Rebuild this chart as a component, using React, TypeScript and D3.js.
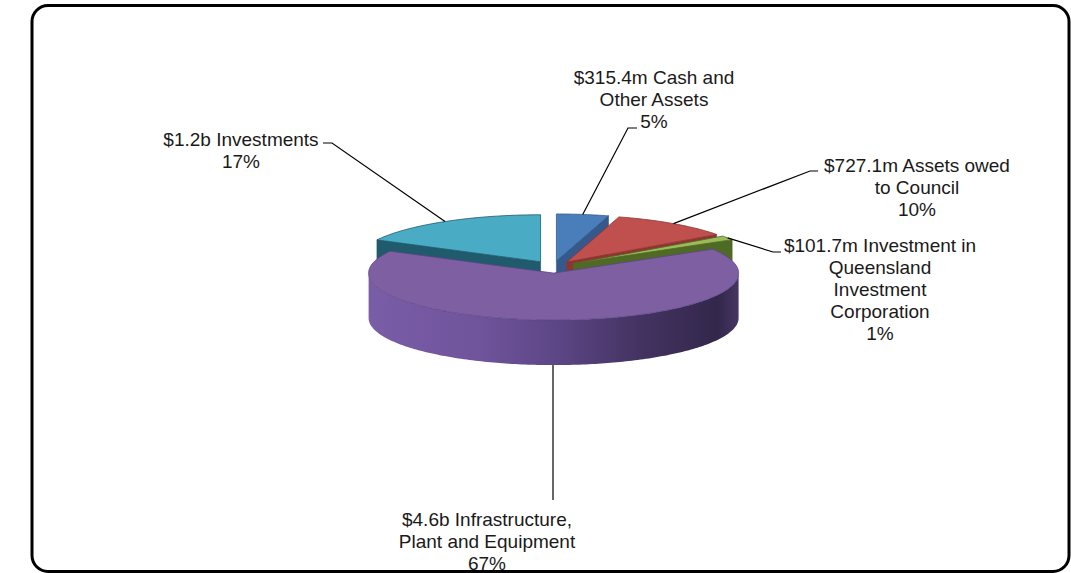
import * as d3 from 'd3';

const categories = [
  'Cash and Other Assets',
  'Assets owed to Council',
  'Investment in Queensland Investment Corporation',
  'Infrastructure, Plant and Equipment',
  'Investments',
];
// $ millions
const amounts = [315.4, 727.1, 101.7, 4600, 1200];
const labelLines = [
  ['$315.4m Cash and', 'Other Assets', '5%'],
  ['$727.1m Assets owed', 'to Council', '10%'],
  ['$101.7m Investment in', 'Queensland', 'Investment', 'Corporation', '1%'],
  ['$4.6b Infrastructure,', 'Plant and Equipment', '67%'],
  ['$1.2b Investments', '17%'],
];

const topColors = ['#4a7ebb', '#c0504d', '#9bbb59', '#7d5fa2', '#4aabc5'];
const sideColors = ['#34598a', '#8e3532', '#4f6a24', '#5c4585', '#1f5b6c'];

// label placement (centre x, first baseline, leader elbow points)
const labelLayout = [
  { x: 654, y: 84, leader: [[637, 128], [628, 128]] },
  { x: 917, y: 172, leader: [[818, 171], [810, 171]] },
  { x: 880, y: 252, leader: [[781, 252], [773, 252]] },
  { x: 487, y: 526, leader: [[553, 500]], vertical: true },
  { x: 241, y: 146, leader: [[323, 143], [332, 143]] },
];

const width = 1071;
const height = 573;
const cx = 553;
const cy = 267;
const rx = 185;
const ry = 47;
const depth = 45;
const explode = 24;
const k = ry / rx;
const lineH = 22;

export default function App() {
  const pie = d3
    .pie<number>()
    .sort(null)
    .value((d) => d)
    .startAngle(0)
    .endAngle(2 * Math.PI);
  const arcs = pie(amounts);

  const line = d3.line();

  const slices = arcs.map((a, i) => {
    const mid = (a.startAngle + a.endAngle) / 2;
    const ox = cx + explode * Math.sin(mid);
    const oy = cy - explode * k * Math.cos(mid);
    const pt = (t: number, z = 0): [number, number] => [
      ox + rx * Math.sin(t),
      oy - ry * Math.cos(t) + z,
    ];
    const steps = Math.max(2, Math.ceil(((a.endAngle - a.startAngle) * 180) / Math.PI));
    const angles = d3.range(steps + 1).map((s) => a.startAngle + ((a.endAngle - a.startAngle) * s) / steps);

    const top = line([[ox, oy], ...angles.map((t) => pt(t))])! + 'Z';

    // outer wall, only the front half is visible
    const w0 = Math.max(a.startAngle, Math.PI / 2);
    const w1 = Math.min(a.endAngle, (3 * Math.PI) / 2);
    let wall: string | null = null;
    if (w1 > w0) {
      const n = Math.ceil(((w1 - w0) * 180) / Math.PI);
      const wa = d3.range(n + 1).map((s) => w0 + ((w1 - w0) * s) / n);
      wall =
        line([...wa.map((t) => pt(t)), ...wa.slice().reverse().map((t) => pt(t, depth))])! + 'Z';
    }

    const faces: string[] = [];
    const face = (t: number) =>
      line([[ox, oy], pt(t), pt(t, depth), [ox, oy + depth]])! + 'Z';
    if (a.startAngle > Math.PI && a.startAngle < 2 * Math.PI) faces.push(face(a.startAngle));
    if (a.endAngle > 0 && a.endAngle < Math.PI) faces.push(face(a.endAngle));

    return { i, mid, ox, oy, pt, top, wall, faces };
  });

  const drawOrder = [4, 0, 1, 2, 3];

  return (
    <svg
      width={width}
      height={height}
      style={{ position: 'absolute', left: 0, top: 0, background: '#fff' }}
    >
      <defs>
        <linearGradient id="purpleSide" gradientUnits="userSpaceOnUse" x1={cx - rx} x2={cx + rx + 6} y1={0} y2={0}>
          <stop offset="0" stopColor="#7a5da7" />
          <stop offset="0.3" stopColor="#6f539b" />
          <stop offset="0.5" stopColor="#5d4686" />
          <stop offset="0.72" stopColor="#443362" />
          <stop offset="0.93" stopColor="#33274b" />
          <stop offset="1" stopColor="#4b3a68" />
        </linearGradient>
      </defs>
      <rect x={32} y={5.5} width={1037} height={566} rx={16} fill="#fff" stroke="#000" strokeWidth={3} />

      {drawOrder.map((idx) => {
        const s = slices[idx];
        return (
          <g key={categories[idx]}>
            {s.faces.map((f, j) => (
              <path key={j} d={f} fill={sideColors[idx]} stroke={sideColors[idx]} strokeWidth={0.6} />
            ))}
            {s.wall && (
              <path
                d={s.wall}
                fill={idx === 3 ? 'url(#purpleSide)' : sideColors[idx]}
                stroke={idx === 3 ? 'none' : sideColors[idx]}
                strokeWidth={0.6}
              />
            )}
            <path d={s.top} fill={topColors[idx]} stroke={sideColors[idx]} strokeWidth={0.8} />
          </g>
        );
      })}

      {slices.map((s) => {
        const lay = labelLayout[s.i];
        let target: [number, number];
        if (lay.vertical) {
          const x = lay.leader[0][0];
          const dx = (x - s.ox) / rx;
          target = [x, s.oy + ry * Math.sqrt(1 - dx * dx) + depth];
        } else {
          target = s.pt(s.mid);
        }
        const pts = [...lay.leader, target] as [number, number][];
        return (
          <path key={'l' + s.i} d={line(pts)!} fill="none" stroke="#000" strokeWidth={1.2} />
        );
      })}

      {labelLines.map((lines, i) => (
        <text
          key={'t' + i}
          x={labelLayout[i].x}
          y={labelLayout[i].y}
          textAnchor="middle"
          fontFamily="'Liberation Sans', Arial, sans-serif"
          fontSize={19}
          fill="#1a1a1a"
        >
          {lines.map((t, j) => (
            <tspan key={j} x={labelLayout[i].x} dy={j === 0 ? 0 : lineH}>
              {t}
            </tspan>
          ))}
        </text>
      ))}
    </svg>
  );
}
